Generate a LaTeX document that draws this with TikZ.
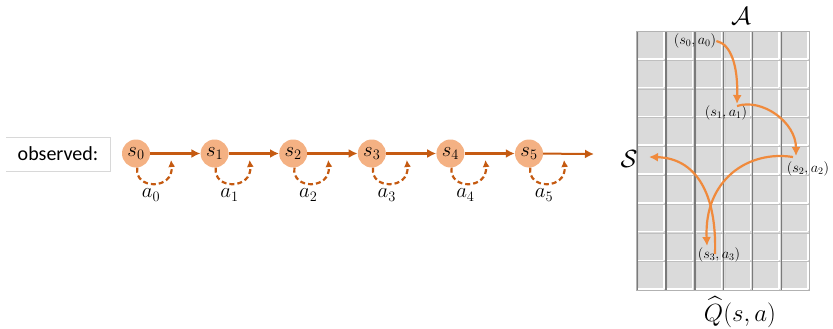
\documentclass[tikz,border=0pt]{standalone}
\usepackage{fontspec}
\usepackage{amsmath}
\newfontfamily\obsfont{Carlito}
\usetikzlibrary{arrows.meta}

\definecolor{statefill}{HTML}{F4B183}
\definecolor{chainorange}{HTML}{C55A11}
\definecolor{qorange}{HTML}{F08A3C}
\definecolor{cellfill}{HTML}{DADADA}
\definecolor{cellshade}{HTML}{7A7A7A}
\definecolor{boxline}{HTML}{D8D8D8}

\tikzset{
  statenode/.style={circle, fill=statefill, minimum size=28pt, inner sep=0pt,
    font=\fontsize{20}{22}\selectfont},
  chainarrow/.style={draw=chainorange, line width=2.6pt,
    -{Latex[length=9pt,width=9pt]}},
  actloop/.style={draw=chainorange, line width=2.2pt, dash pattern=on 5pt off 3pt,
    -{Latex[length=7pt,width=7pt]}},
  actlabel/.style={inner sep=0pt, font=\fontsize{21}{23}\selectfont},
  pairlabel/.style={inner sep=0pt, font=\fontsize{14}{16}\selectfont},
  qarrow/.style={draw=qorange, line width=2.2pt, -{Latex[length=9pt,width=9pt]}},
  axislabel/.style={inner sep=0pt, font=\fontsize{23}{25}\selectfont},
}

\begin{document}
\begin{tikzpicture}[x=1pt, y=-1pt]
\useasboundingbox (0,0) rectangle (833,329);

% label box for the observed sequence
\draw[boxline, line width=0.8pt] (6,137) -- (110,137) -- (110,171) -- (6,171);
\node[inner sep=0pt, font=\obsfont\fontsize{20}{22}\selectfont] (obs) at (58,154) {observed:};

% chain of states with their actions
\foreach \k in {0,...,5}{
  \node[statenode] (s\k) at ({136+78.6*\k},153.5) {$s_{\k}$};
  \coordinate (l\k) at ({171+78.6*\k},160);
  \node[actlabel] (a\k) at ({151+78.6*\k},195) {$a_{\k}$};
  \draw[actloop] (s\k.-85) .. controls ({134+78.6*\k},190) and ({174+78.6*\k},190) .. (l\k);
}
\coordinate (tail) at (594,154);
\foreach \k [evaluate=\k as \n using int(\k+1)] in {0,...,4}{
  \draw[chainarrow] (s\k) -- (s\n);
}
\draw[chainarrow, line width=2pt] (s5) -- (tail);

% Q table: 6 columns (actions) by 9 rows (states)
\foreach \i in {0,...,5}{
  \foreach \j in {0,...,8}{
    \begin{scope}[shift={(636+\i*28.83, 31+\j*28.78)}]
      \fill[cellfill] (0,0) rectangle (28.83,28.78);
      \draw[gray!50, line width=0.9pt] (0,0.5) -- (28.83,0.5);
      \draw[cellshade, line width=1.5pt] (1.1,0) -- (1.1,28.78);
      \draw[gray!35, line width=1pt] (2.6,1) -- (2.6,27.5);
      \draw[white, line width=1.5pt] (27.9,1.2) -- (27.9,27.6);
      \draw[white, line width=1.5pt] (2,27.9) -- (27.9,27.9);
    \end{scope}
  }
}
\draw[gray!60, line width=0.8pt] (636,31) rectangle (809,290);

\node[axislabel] (A) at (741,16) {$\mathcal{A}$};
\node[axislabel] (S) at (629,159) {$\mathcal{S}$};
\node[inner sep=0pt, font=\fontsize{25}{27}\selectfont] (Q) at (740,312) {$\widehat{Q}(s,a)$};

% visited state-action pairs
\node[pairlabel] (p0) at (695,41) {$(s_0,a_0)$};
\node[pairlabel] (p1) at (726,113) {$(s_1,a_1)$};
\node[pairlabel] (p2) at (808,169) {$(s_2,a_2)$};
\node[pairlabel] (p3) at (719,255) {$(s_3,a_3)$};

\coordinate (t1) at (737,104);
\coordinate (t2) at (796,156);
\coordinate (t3) at (707,246);
\coordinate (t4) at (649,157);

\draw[qarrow] (p0.east) .. controls (731,44) and (738,66) .. (t1);
\draw[qarrow] ([yshift=-2pt]t1) .. controls (762,98) and (796,122) .. (t2);
\draw[qarrow] ([xshift=-3pt,yshift=-1pt]t2) .. controls (748,150) and (704,180) .. (t3);
\draw[qarrow] ([xshift=8pt,yshift=-8pt]t3) .. controls (717,192) and (695,158) .. (t4);
\end{tikzpicture}
\end{document}
